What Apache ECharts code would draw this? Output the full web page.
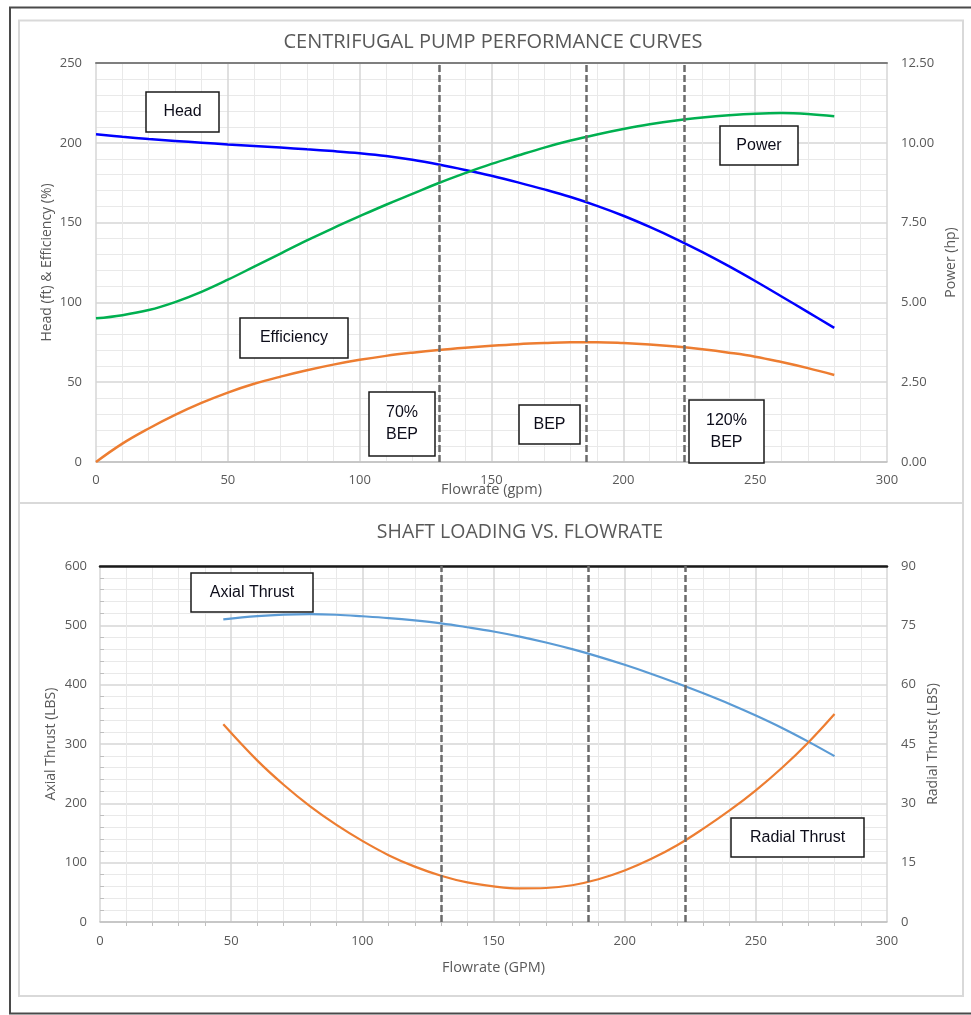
<!DOCTYPE html>
<html>
<head>
<meta charset="utf-8">
<script src="https://cdn.jsdelivr.net/npm/echarts@6/dist/echarts.min.js"></script>
<style>
html,body{margin:0;padding:0;background:#fff;}
#chart{width:971px;height:1015px;}
</style>
</head>
<body>
<div id="chart"></div>
<script>
// ---- Top chart data (flowrate in gpm) ----
const flowTop = [0,10,20,30,40,50,60,70,80,90,100,110,120,130,140,150,160,170,180,190,200,210,220,230,240,250,260,270,280];
const headFt = [205.3,203.8,202.4,201.2,200.1,199,198,197,195.9,194.8,193.5,191.8,189.4,186.4,183.0,179.3,175.2,170.8,166.0,160.5,154.3,147.3,139.7,131.5,122.7,113.4,103.7,93.9,84];
const efficiencyPct = [0,11.5,21,29.5,37,43.5,49,53.5,57.5,61,64,66.5,68.5,70.2,71.6,72.8,73.8,74.5,75,75,74.5,73.6,72.3,70.6,68.5,66,62.6,58.8,54.5];
const powerHp = [4.50,4.60,4.76,5.01,5.33,5.71,6.12,6.53,6.94,7.33,7.70,8.06,8.40,8.74,9.05,9.34,9.60,9.85,10.07,10.26,10.43,10.58,10.70,10.79,10.86,10.91,10.93,10.90,10.83];

// ---- Bottom chart data ----
const flowBottom = [47,60,70,80,90,100,110,120,130,140,150,160,170,180,190,200,210,220,230,240,250,260,270,280];
const axialLbs = [510,515.5,518,518.8,517.8,515.3,512.3,508.3,503.3,496.8,489.6,481,471,459.8,447.3,433.5,418.5,402.5,385.5,367.5,348,327,304,279.5];
const radialLbs = [50,40.8,34.7,29.3,24.6,20.5,16.9,14.0,11.7,10.0,9.0,8.5,8.6,9.3,10.8,13.0,15.9,19.4,23.6,28.2,33.3,39.0,45.4,52.6];

// ---- Reference flowrates (70% BEP, BEP, 120% BEP) ----
const bepLines = [130.2, 186, 223.2];

// ---- Tick settings ----
const xTicks = {min:0, max:300, interval:50};
const headTicks = {min:0, max:250, interval:50};
const powerTicks = {min:0, max:12.5, interval:2.5};
const axialTicks = {min:0, max:600, interval:100};
const radialTicks = {min:0, max:90, interval:15};

const pair = (xs, ys) => xs.map((x,i)=>[x, ys[i]]);

const FONT = '"Open Sans", "Noto Sans", sans-serif';
const LBL = {color:'#595959', fontFamily:FONT, fontSize:13};
const NAME = {color:'#595959', fontFamily:FONT, fontSize:14};
const majorSplit = {show:true, lineStyle:{color:'#d6d6d6', width:1.5}};
const minorSplit = {show:true, lineStyle:{color:'#e9e9e9', width:1}};

const dashLine = {
  silent:true, symbol:'none', label:{show:false},
  lineStyle:{color:'#6b6b6b', width:2.5, type:[7,3]},
  data: bepLines.map(v=>({xAxis:v}))
};

function box(x, y, w, h, text){
  return {
    type:'group', x:x, y:y, z:100, children:[
      {type:'rect', z:100, shape:{x:0,y:0,width:w,height:h}, style:{fill:'#ffffff', stroke:'#1a1a1a', lineWidth:1.5, lineDash:null}},
      {type:'text', z:101, x:w/2, y:h/2, style:{text:text, fill:'#0d0d1a', font:'16px "Liberation Sans", Arial, sans-serif', textAlign:'center', textVerticalAlign:'middle', lineHeight:22}}
    ]
  };
}

const chart = echarts.init(document.getElementById('chart'), null, {renderer:'canvas'});
chart.setOption({
  backgroundColor:'#ffffff',
  animation:false,
  grid:[
    {left:96, top:63, width:791, height:399},
    {left:100, top:566, width:787, height:356}
  ],
  xAxis:[
    {gridIndex:0, type:'value', ...xTicks, position:'bottom',
     axisLine:{show:true, onZero:false, lineStyle:{color:'#bfbfbf', width:1.5}},
     axisTick:{show:false}, axisLabel:{...LBL, margin:12},
     splitLine:majorSplit, minorTick:{show:false, splitNumber:5}, minorSplitLine:minorSplit,
     name:'Flowrate (gpm)', nameLocation:'middle', nameGap:20, nameMoveOverlap:false, nameTextStyle:{...NAME, fontSize:14.5}},
    {gridIndex:0, type:'value', ...xTicks, position:'top',
     axisLine:{show:true, onZero:false, lineStyle:{color:'#7f7f7f', width:2}},
     axisTick:{show:false}, axisLabel:{show:false}, splitLine:{show:false}},
    {gridIndex:1, type:'value', ...xTicks, position:'bottom',
     axisLine:{show:true, onZero:false, lineStyle:{color:'#bfbfbf', width:1.5}},
     axisTick:{show:false}, axisLabel:{...LBL, margin:13},
     minorTick:{show:true, splitNumber:5, length:4, lineStyle:{color:'#bfbfbf'}},
     splitLine:majorSplit, minorSplitLine:minorSplit,
     name:'Flowrate (GPM)', nameLocation:'middle', nameGap:38, nameMoveOverlap:false, nameTextStyle:{...NAME, fontSize:14.5}},
    {gridIndex:1, type:'value', ...xTicks, position:'top',
     axisLine:{show:true, onZero:false, lineStyle:{color:'#1a1a1a', width:2.5}},
     axisTick:{show:false}, axisLabel:{show:false}, splitLine:{show:false}}
  ],
  yAxis:[
    {gridIndex:0, type:'value', ...headTicks, position:'left',
     axisLine:{show:false}, axisTick:{show:false}, axisLabel:{...LBL, margin:14},
     splitLine:majorSplit, minorTick:{show:false, splitNumber:5}, minorSplitLine:minorSplit,
     name:'Head (ft) & Efficiency (%)', nameLocation:'middle', nameGap:42, nameMoveOverlap:false, nameTextStyle:NAME},
    {gridIndex:0, type:'value', ...powerTicks, position:'right',
     axisLine:{show:false}, axisTick:{show:false},
     axisLabel:{...LBL, margin:14, formatter:v=>v.toFixed(2)},
     splitLine:{show:false},
     name:'Power (hp)', nameLocation:'middle', nameGap:57, nameMoveOverlap:false, nameTextStyle:NAME},
    {gridIndex:1, type:'value', ...axialTicks, position:'left',
     axisLine:{show:false}, axisTick:{show:false}, axisLabel:{...LBL, margin:13},
     splitLine:majorSplit, minorTick:{show:false, splitNumber:5}, minorSplitLine:minorSplit,
     name:'Axial Thrust (LBS)', nameLocation:'middle', nameGap:42, nameMoveOverlap:false, nameTextStyle:NAME},
    {gridIndex:1, type:'value', ...radialTicks, position:'right',
     axisLine:{show:false}, axisTick:{show:false}, axisLabel:{...LBL, margin:14},
     minorTick:{show:true, splitNumber:5, length:4, inside:true, lineStyle:{color:'#bfbfbf'}},
     splitLine:{show:false},
     name:'Radial Thrust (LBS)', nameLocation:'middle', nameGap:39, nameMoveOverlap:false, nameTextStyle:NAME}
  ],
  series:[
    {name:'Head', type:'line', xAxisIndex:0, yAxisIndex:0, data:pair(flowTop, headFt),
     showSymbol:false, smooth:0.4, lineStyle:{color:'#0000ff', width:2.5}, z:3, markLine:dashLine},
    {name:'Efficiency', type:'line', xAxisIndex:0, yAxisIndex:0, data:pair(flowTop, efficiencyPct),
     showSymbol:false, smooth:0.4, lineStyle:{color:'#ed7d31', width:2.5}, z:3},
    {name:'Power', type:'line', xAxisIndex:0, yAxisIndex:1, data:pair(flowTop, powerHp),
     showSymbol:false, smooth:0.4, lineStyle:{color:'#00b050', width:2.5}, z:3},
    {name:'Axial Thrust', type:'line', xAxisIndex:2, yAxisIndex:2, data:pair(flowBottom, axialLbs),
     showSymbol:false, smooth:0.4, lineStyle:{color:'#5b9bd5', width:2.2}, z:3, markLine:dashLine},
    {name:'Radial Thrust', type:'line', xAxisIndex:2, yAxisIndex:3, data:pair(flowBottom, radialLbs),
     showSymbol:false, smooth:0.4, lineStyle:{color:'#ed7d31', width:2.2}, z:3}
  ],
  graphic:[
    {type:'rect', shape:{x:10, y:7.5, width:975, height:1006}, style:{fill:'none', stroke:'#4a4a4a', lineWidth:2}, z:-1},
    {type:'rect', shape:{x:19, y:20.5, width:944, height:482.5}, style:{fill:'none', stroke:'#d9d9d9', lineWidth:2}, z:-1},
    {type:'rect', shape:{x:19, y:503, width:944, height:493}, style:{fill:'none', stroke:'#d9d9d9', lineWidth:2}, z:-1},
    {type:'text', x:493, y:42, style:{text:'CENTRIFUGAL PUMP PERFORMANCE CURVES', fill:'#595959', font:'20px "Open Sans", sans-serif', textAlign:'center', textVerticalAlign:'middle'}},
    {type:'text', x:520, y:532, style:{text:'SHAFT LOADING VS. FLOWRATE', fill:'#595959', font:'19.5px "Open Sans", sans-serif', textAlign:'center', textVerticalAlign:'middle'}},
    box(146, 92, 73, 40, 'Head'),
    box(720, 126, 78, 39, 'Power'),
    box(240, 318, 108, 40, 'Efficiency'),
    box(369, 392, 66, 64, '70%\nBEP'),
    box(519, 405, 61, 39, 'BEP'),
    box(689, 400, 75, 63, '120%\nBEP'),
    box(191, 573, 122, 39, 'Axial Thrust'),
    box(731, 818, 133, 39, 'Radial Thrust')
  ]
});
</script>
</body>
</html>
